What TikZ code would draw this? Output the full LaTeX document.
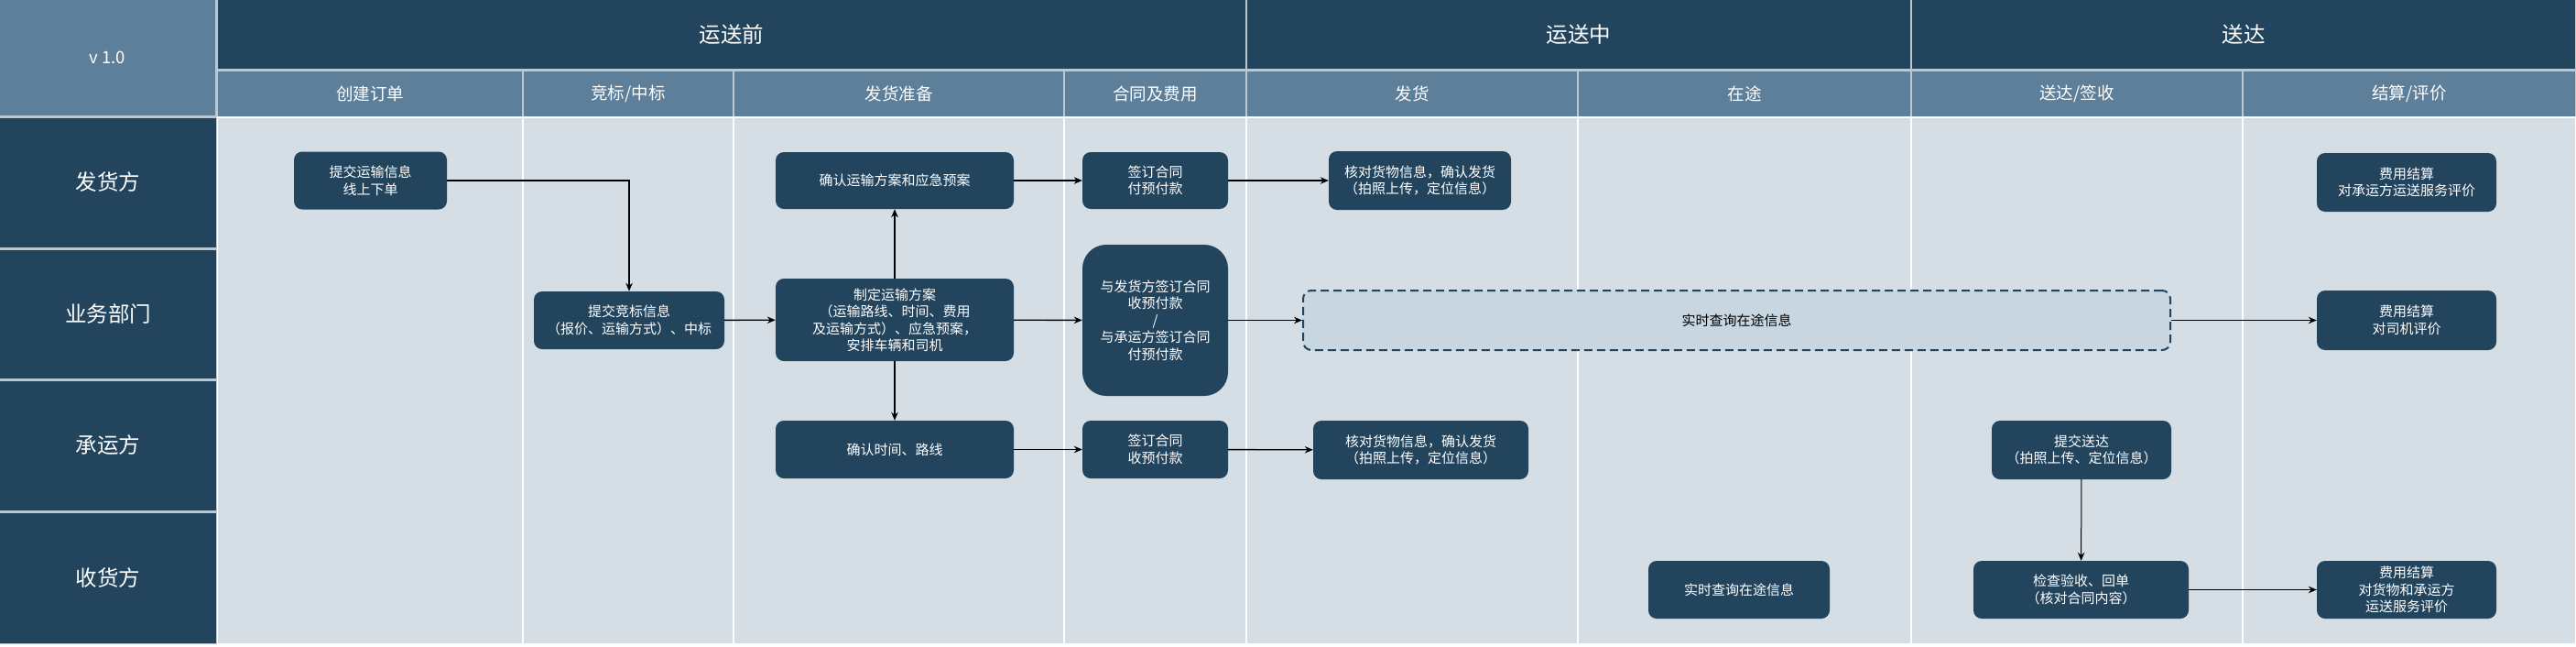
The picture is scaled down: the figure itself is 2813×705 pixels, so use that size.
\documentclass[tikz,border=0pt]{standalone}
\usepackage{fontspec}
\setmainfont{Noto Sans CJK SC}
\usetikzlibrary{arrows.meta}
\definecolor{navy}{HTML}{23445D}
\definecolor{slate}{HTML}{5D7F99}
\definecolor{edge}{HTML}{BAC8D3}
\definecolor{lanebg}{HTML}{D6DEE5}
\definecolor{livebg}{HTML}{C7D6E1}
\newcommand\boxfont{\fontsize{15}{18.5}\selectfont}
\newcommand\headfont{\fontsize{23.5}{28}\selectfont}
\newcommand\stagefont{\fontsize{18.5}{22}\selectfont}
\tikzset{
  cell/.style={rectangle, fill=#1, text=white, inner sep=0pt, outer sep=0pt},
  task/.style 2 args={rectangle, rounded corners=9pt, fill=navy, text=white,
    align=center, inner sep=0pt, minimum width=#1, minimum height=#2, font=\boxfont},
  live/.style 2 args={rectangle, rounded corners=9pt, fill=livebg, draw=navy,
    line width=2pt, dash pattern=on 9pt off 5pt, text=black,
    align=center, inner sep=0pt, minimum width=#1, minimum height=#2, font=\boxfont},
  link/.style={draw=black, line width=1.4pt, -{Stealth[length=9pt,width=7.5pt]}}
}
\begin{document}
\begin{tikzpicture}[x=1pt, y=-1pt]
  \useasboundingbox (0,0) rectangle (2813,705);

  % grid
  \fill[edge] (0,0) rectangle (2813,127);
  \fill[edge] (0,127) rectangle (237,703);
  \fill[white] (237,127) rectangle (2813,703);

  \node[cell=slate, font=\stagefont, minimum width=235, minimum height=126] (ver) at (117.5,63) {v 1.0};

  \foreach \a/\b/\lbl [count=\i] in {237/1361/运送前, 1361/2087/运送中, 2087/2813/送达}
    \node[cell=navy, font=\headfont, minimum width={\b-\a-2}, minimum height=75] (phase\i) at ({(\a+\b)/2},37.5) {\lbl};

  \foreach \a/\b/\lbl [count=\i] in {237/571/创建订单, 571/801/{竞标/中标}, 801/1162/发货准备,
      1162/1361/合同及费用, 1361/1723/发货, 1723/2087/在途, 2087/2449/{送达/签收}, 2449/2813/{结算/评价}} {
    \node[cell=slate, font=\stagefont, minimum width={\b-\a-2}, minimum height=49] (stage\i) at ({(\a+\b)/2},102) {\lbl};
    \fill[lanebg] (\a+1,129) rectangle (\b-1,702);
  }

  \foreach \y/\h/\lbl [count=\i] in {199/141/发货方, 342.5/140/业务部门, 486/141/承运方, 630.5/142/收货方}
    \node[cell=navy, font=\headfont, minimum width=236, minimum height=\h] (lane\i) at (118,\y) {\lbl};

  % steps
  \node[task={167}{63}] (order) at (404.5,197) {提交运输信息\\线上下单};
  \node[task={208}{63}] (bid) at (687,349.5) {提交竞标信息\\（报价、运输方式）、中标};
  \node[task={260}{62}] (confirm) at (977,197) {确认运输方案和应急预案};
  \node[task={260}{90}] (plan) at (977,349) {制定运输方案\\（运输路线、时间、费用\\及运输方式）、应急预案，\\安排车辆和司机};
  \node[task={260}{63}] (route) at (977,490.5) {确认时间、路线};
  \node[task={159}{62}] (signS) at (1261.5,197) {签订合同\\付预付款};
  \node[task={159}{165}, rounded corners=26pt] (signB) at (1261.5,349.5) {与发货方签订合同\\收预付款\\/\\与承运方签订合同\\付预付款};
  \node[task={159}{63}] (signC) at (1261.5,490.5) {签订合同\\收预付款};
  \node[task={199}{64}] (shipS) at (1550.5,197) {核对货物信息，确认发货\\（拍照上传，定位信息）};
  \node[task={235}{64}] (shipC) at (1551.5,491) {核对货物信息，确认发货\\（拍照上传，定位信息）};
  \node[live={947}{65}] (track) at (1896.5,349.5) {实时查询在途信息};
  \node[task={198}{63}] (trackR) at (1899,643.5) {实时查询在途信息};
  \node[task={196}{64}] (deliver) at (2273,491) {提交送达\\（拍照上传、定位信息）};
  \node[task={235}{63}] (accept) at (2272.5,643.5) {检查验收、回单\\（核对合同内容）};
  \node[task={196}{64}] (payS) at (2628,199) {费用结算\\对承运方运送服务评价};
  \node[task={196}{65}] (payD) at (2628,349.5) {费用结算\\对司机评价};
  \node[task={196}{63}] (payR) at (2628,643.5) {费用结算\\对货物和承运方\\运送服务评价};

  % flow
  \draw[link] (order.east) -| (bid.north);
  \draw[link] (bid) -- (plan);
  \draw[link] (plan) -- (confirm);
  \draw[link] (plan) -- (route);
  \draw[link] (confirm) -- (signS);
  \draw[link] (plan) -- (signB);
  \draw[link] (route) -- (signC);
  \draw[link] (signS) -- (shipS);
  \draw[link] (signB) -- (track);
  \draw[link] (signC) -- (shipC);
  \draw[link] (track) -- (payD);
  \draw[link, line width=1pt] (deliver) -- (accept);
  \draw[link] (accept) -- (payR);
\end{tikzpicture}
\end{document}
